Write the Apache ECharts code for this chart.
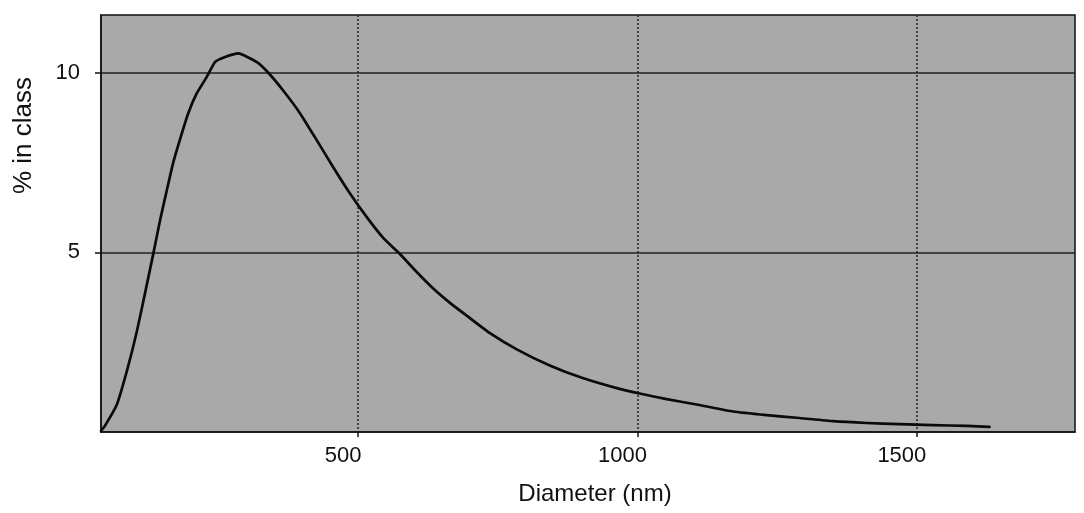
<!DOCTYPE html>
<html>
<head>
<meta charset="utf-8">
<script src="https://cdn.jsdelivr.net/npm/echarts@6/dist/echarts.min.js"></script>
<style>
html,body{margin:0;padding:0;background:#fff;}
#chart{width:1084px;height:513px;}
</style>
</head>
<body>
<div id="chart"></div>
<script>
// Diameter (nm)
const diameters = [40, 47, 68, 86, 104, 122, 134, 146, 158, 169, 181, 196, 211, 229, 244, 262, 286, 319, 339, 366, 396, 426, 455, 485, 516, 545, 575, 605, 634, 664, 695, 736, 784, 843, 902, 963, 1004, 1050, 1111, 1171, 1231, 1290, 1350, 1410, 1469, 1528, 1589, 1630];
// % in class
const percents = [0.03, 0.17, 0.75, 1.68, 2.79, 4.1, 4.99, 5.91, 6.74, 7.48, 8.12, 8.86, 9.41, 9.87, 10.29, 10.43, 10.53, 10.29, 10.0, 9.5, 8.87, 8.12, 7.38, 6.65, 5.97, 5.4, 4.95, 4.45, 4.0, 3.6, 3.23, 2.75, 2.3, 1.85, 1.5, 1.22, 1.07, 0.92, 0.75, 0.57, 0.47, 0.39, 0.30, 0.25, 0.22, 0.19, 0.17, 0.14];
const xTicks = [500, 1000, 1500];
const yTicks = [5, 10];
const xRange = [40, 1783];
const yRange = [0, 11.6];

const data = diameters.map((d, i) => [d, percents[i]]);
const font = "'Liberation Sans', Arial, sans-serif";

const chart = echarts.init(document.getElementById('chart'));
chart.setOption({
  animation: false,
  backgroundColor: '#ffffff',
  grid: {
    left: 101, right: 9, top: 15, bottom: 81,
    show: true,
    backgroundColor: '#a9a9a9',
    borderColor: '#111',
    borderWidth: 1.5
  },
  xAxis: {
    type: 'value',
    min: xRange[0], max: xRange[1],
    name: 'Diameter (nm)',
    nameLocation: 'middle',
    nameGap: 50,
    nameTextStyle: { fontFamily: font, fontSize: 24, color: '#111', padding: [0, 0, 0, 14] },
    axisLine: { show: true, lineStyle: { color: '#111', width: 1.5 } },
    axisTick: { show: true, length: 5, customValues: xTicks, lineStyle: { color: '#111', width: 1.5 } },
    axisLabel: {
      customValues: xTicks, margin: 13, fontFamily: font, fontSize: 22, color: '#111',
      padding: [0, 30, 0, 0],
      formatter: v => String(v)
    },
    splitLine: { show: true, lineStyle: { color: '#222', width: 1.5, type: [2, 2] } }
  },
  yAxis: {
    type: 'value',
    min: yRange[0], max: yRange[1],
    name: '% in class',
    nameLocation: 'middle',
    nameGap: 64,
    nameRotate: 90,
    nameTextStyle: { fontFamily: font, fontSize: 26, color: '#111', padding: [0, 0, 0, 176] },
    axisLine: { show: true, lineStyle: { color: '#111', width: 1.5 } },
    axisTick: { show: true, length: 6, customValues: yTicks, lineStyle: { color: '#111', width: 1.5 } },
    axisLabel: { customValues: yTicks, margin: 21, fontFamily: font, fontSize: 22, color: '#111', formatter: v => String(v) },
    splitLine: { show: true, lineStyle: { color: '#222', width: 1.5, type: 'solid' } }
  },
  series: [{
    type: 'line',
    data: data,
    smooth: 0.15,
    showSymbol: false,
    lineStyle: { color: '#0a0a0a', width: 2.7, join: 'round', cap: 'round' }
  }]
});
</script>
</body>
</html>
